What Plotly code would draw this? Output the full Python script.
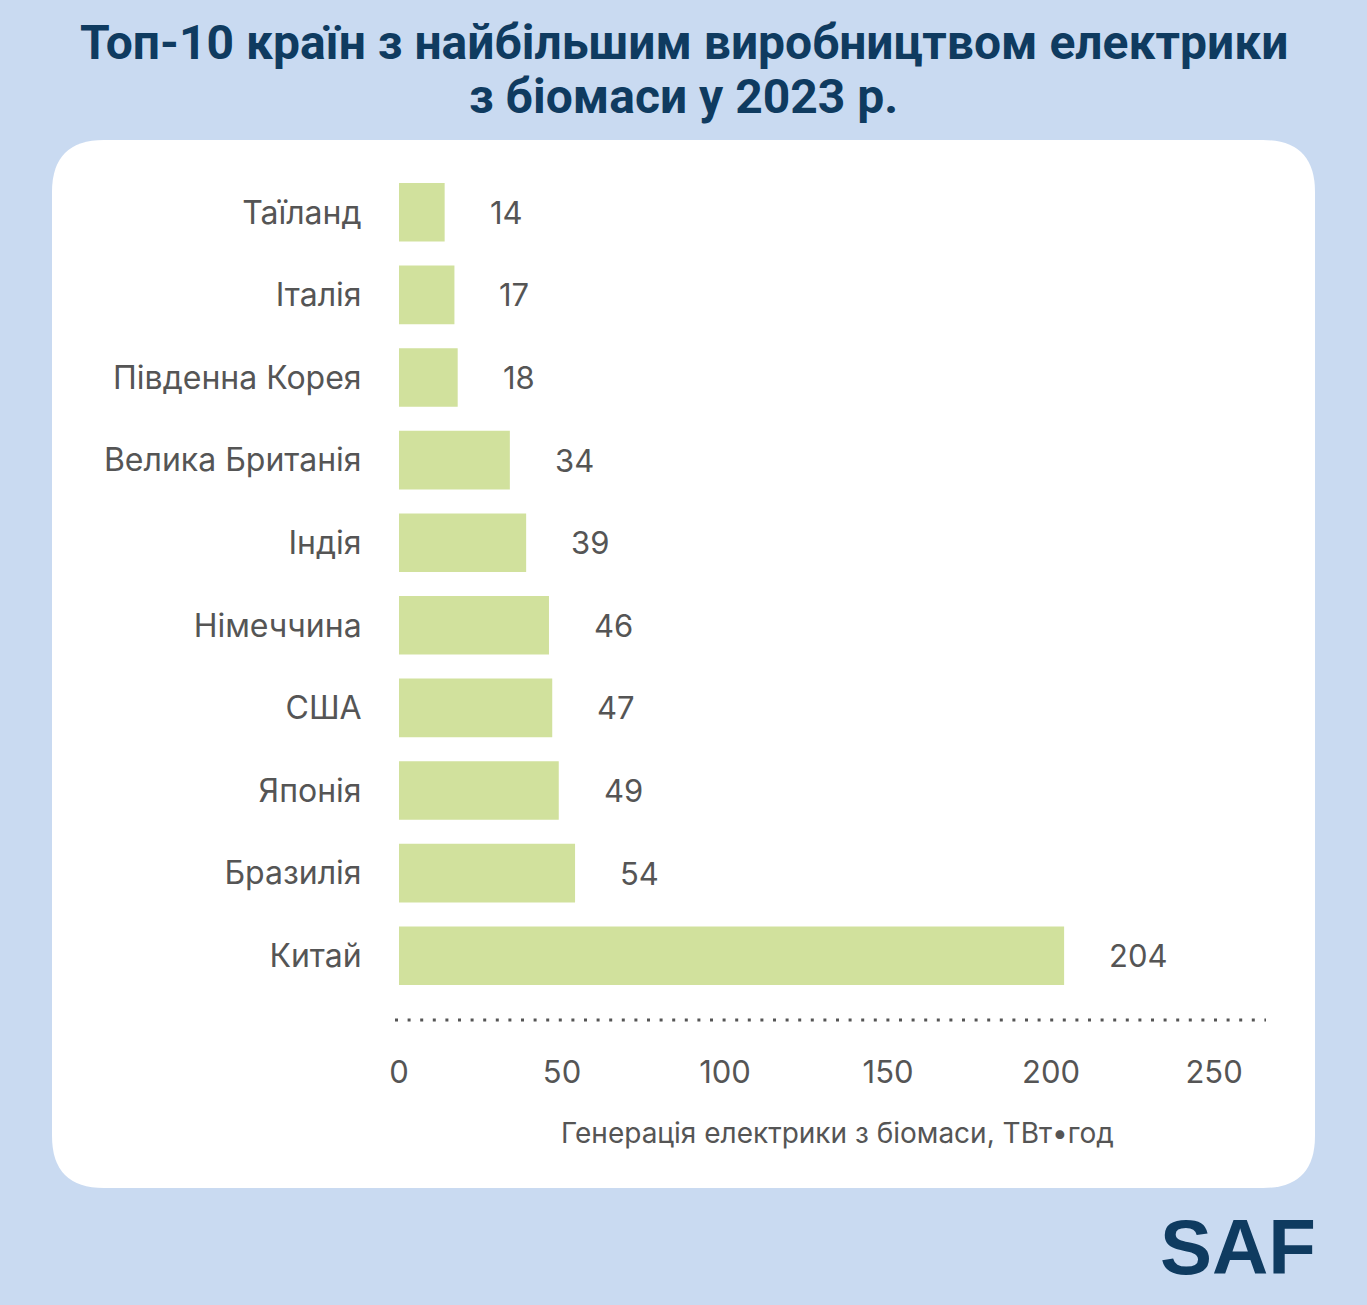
import plotly.graph_objects as go

countries = ["Китай", "Бразилія", "Японія", "США", "Німеччина", "Індія",
             "Велика Британія", "Південна Корея", "Італія", "Таїланд"]
values = [204, 54, 49, 47, 46, 39, 34, 18, 17, 14]
tick_vals = [0, 50, 100, 150, 200, 250]
title_lines = ["Топ-10 країн з найбільшим виробництвом електрики", "з біомаси у 2023 р."]
x_title = "Генерація електрики з біомаси, ТВт•год"

W, H = 1367, 1305
BG = "#c9daf1"
BAR = "#d1e19d"
TXT = "#555555"
NAVY = "#0f3b60"

ml, mr, mt, mb = 399, 104, 171, 308

fig = go.Figure(go.Bar(
    x=values, y=countries, orientation="h",
    marker=dict(color=BAR, line=dict(width=0)),
    width=0.71, hoverinfo="x+y"
))

# value labels
for c, v in zip(countries, values):
    fig.add_annotation(x=v, y=c, text=str(v), showarrow=False,
                       xanchor="left", xshift=43,
                       font=dict(family="Inter", size=31, color=TXT))

def px_to_paper_x(px):
    return (px - ml) / (W - ml - mr)

def px_to_paper_y(py):
    return (H - mb - py) / (H - mt - mb)

# white rounded panel
x0, x1, y0, y1, r = 52, 1315, 140, 1188, 52
def P(x, y):
    return f"{px_to_paper_x(x)},{px_to_paper_y(y)}"
path = (f"M {P(x0 + r, y0)} L {P(x1 - r, y0)} Q {P(x1, y0)} {P(x1, y0 + r)} "
        f"L {P(x1, y1 - r)} Q {P(x1, y1)} {P(x1 - r, y1)} "
        f"L {P(x0 + r, y1)} Q {P(x0, y1)} {P(x0, y1 - r)} "
        f"L {P(x0, y0 + r)} Q {P(x0, y0)} {P(x0 + r, y0)} Z")
fig.add_shape(type="path", path=path, xref="paper", yref="paper",
              fillcolor="white", line=dict(width=0), layer="below")

# dotted axis line
fig.add_shape(type="line", xref="paper", yref="paper",
              x0=px_to_paper_x(395), x1=px_to_paper_x(1266),
              y0=px_to_paper_y(1020), y1=px_to_paper_y(1020),
              line=dict(color="#555555", width=3, dash="3px,9.6px"))

# axis title
fig.add_annotation(x=px_to_paper_x(837), y=px_to_paper_y(1133), xref="paper", yref="paper",
                   text=x_title, showarrow=False, xanchor="center", yanchor="middle",
                   font=dict(family="Inter", size=28, color=TXT))

# title lines
for line, ypx in zip(title_lines, [42, 97]):
    fig.add_annotation(x=px_to_paper_x(W / 2), y=px_to_paper_y(ypx), xref="paper", yref="paper",
                       text=f"<b>{line}</b>", showarrow=False, xanchor="center", yanchor="middle",
                       font=dict(family="Roboto", size=48, color=NAVY))

# SAF logo text
fig.add_annotation(x=px_to_paper_x(1318), y=px_to_paper_y(1247), xref="paper", yref="paper",
                   text="<b>SAF</b>", showarrow=False, xanchor="right", yanchor="middle",
                   font=dict(family="Liberation Sans", size=78, color=NAVY))

fig.update_layout(
    width=W, height=H,
    paper_bgcolor=BG, plot_bgcolor="rgba(0,0,0,0)",
    margin=dict(l=ml, r=mr, t=mt, b=mb, autoexpand=False),
    showlegend=False,
    xaxis=dict(range=[0, 265], tickvals=tick_vals, showgrid=False, zeroline=False,
               showline=False, ticks="outside", ticklen=48, tickcolor="rgba(0,0,0,0)",
               tickfont=dict(family="Inter", size=31, color=TXT), fixedrange=True),
    yaxis=dict(range=[-0.5, 9.5], showgrid=False, zeroline=False, showline=False,
               ticks="outside", ticklen=30, tickcolor="rgba(0,0,0,0)",
               tickfont=dict(family="Inter", size=32, color=TXT), fixedrange=True),
)

fig.write_html("out.html", config={"displayModeBar": False},
               post_script="document.body.style.margin='0';")
